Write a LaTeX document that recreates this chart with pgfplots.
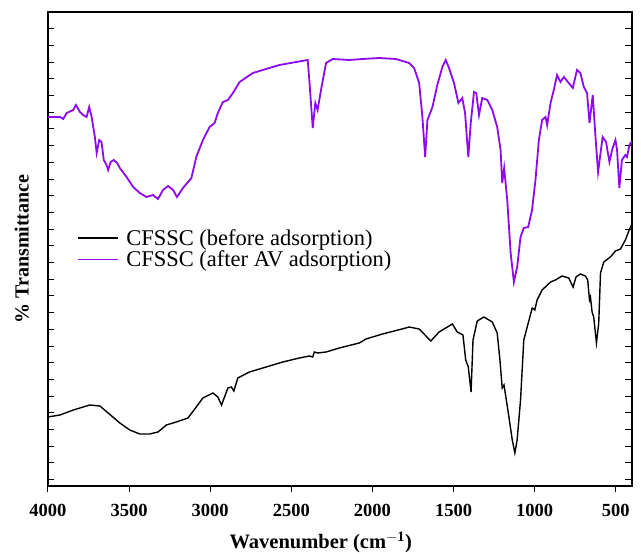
\documentclass[border=0pt]{standalone}
\usepackage{fontspec}
\setmainfont{Liberation Serif}
\usepackage{pgfplots}
\pgfplotsset{compat=1.18}
\definecolor{avpurple}{RGB}{140,10,235}
\begin{document}
\begin{tikzpicture}
\begin{axis}[
  scale only axis,
  width=584pt, height=474pt,
  at={(0,0)}, anchor=south west,
  x dir=reverse,
  xmin=400, xmax=4000,
  ymin=0, ymax=474,
  xtick={500,1000,...,4000},
  ytick={6.4,23.1,...,474},
  yticklabels={},
  xtick align=outside,
  ytick align=inside,
  xtick pos=bottom,
  ytick pos=both,
  yticklabel pos=left,
  x tick style={black, line width=1pt},
  y tick style={black, line width=0.8pt},
  major tick length=6.5pt,
  /pgf/number format/assume math mode=true,
  /pgf/number format/1000 sep={},
  ticklabel style={font=\fontsize{18.5}{20}\selectfont\bfseries},
  xticklabel style={yshift=-8pt},
  xlabel={Wavenumber (cm$^{\mathbf{-1}}$)},
  ylabel={\% Transmittance},
  xlabel style={font=\fontsize{20.5}{24}\selectfont\bfseries, at={(axis description cs:0.467,0)}, anchor=north, yshift=-42pt},
  ylabel style={font=\fontsize{20}{24}\selectfont\bfseries, at={(axis description cs:-0.045,0.5)}, anchor=center},
  axis line style={line width=1.2pt},
  legend style={at={(0.045,0.55)}, anchor=north west, draw=none, fill=none,
    font=\fontsize{22.5}{25}\selectfont, row sep=0pt, column sep=5pt, cells={anchor=west}},
  legend cell align=left,
  legend image code/.code={\draw[#1] (0pt,0pt) -- (40pt,0pt);},
  clip=true,
]
\addplot[black, line width=1.4pt] coordinates {
(4000,69) (3926,71) (3844,76) (3742,81) (3680,80) (3629,73) (3557,63) (3496,56)
(3434,52) (3373,52) (3322,54) (3270,61) (3209,64) (3137,68) (3086,79) (3045,88)
(2983,93) (2953,89) (2930,81) (2891,98) (2870,99) (2854,95) (2830,108) (2758,114)
(2655,119) (2553,124) (2450,128) (2389,130) (2368,129) (2358,134) (2338,133)
(2286,134) (2204,138) (2081,143) (2040,147) (1938,152) (1794,158) (1774,159)
(1712,157) (1640,145) (1589,154) (1507,162) (1477,154) (1442,151) (1425,126)
(1409,119) (1392,94) (1380,146) (1354,165) (1313,169) (1261,164) (1231,153)
(1214,126) (1200,98) (1189,101) (1165,76) (1138,46) (1122,33) (1108,46) (1087,86)
(1067,146) (1046,159) (1015,178) (999,176) (985,186) (954,196) (902,204) (872,206)
(831,210) (790,208) (763,199) (745,209) (718,212) (687,210) (673,206) (662,186)
(656,189) (646,174) (636,169) (619,143) (605,163) (594,213) (574,224) (533,229)
(502,235) (471,237) (441,246) (415,257) (400,262)
};
\addlegendentry{CFSSC (before adsorption)}
\addplot[avpurple, line width=1.8pt] coordinates {
(4000,369) (3926,369) (3906,367) (3885,373) (3844,376) (3828,381) (3803,374)
(3783,371) (3762,369) (3746,379) (3731,369) (3711,349) (3700,333) (3684,346)
(3670,344) (3656,326) (3639,321) (3629,316) (3614,324) (3594,326) (3574,323)
(3557,318) (3516,309) (3475,299) (3434,293) (3393,289) (3352,291) (3322,287)
(3291,296) (3260,300) (3229,296) (3205,289) (3168,298) (3116,308) (3086,329)
(3045,346) (3004,359) (2973,363) (2953,373) (2922,384) (2891,386) (2860,393)
(2819,404) (2737,413) (2676,416) (2573,421) (2470,424) (2399,426) (2389,406)
(2368,358) (2352,383) (2338,376) (2317,396) (2286,423) (2245,427) (2143,426)
(2061,427) (1958,428) (1855,427) (1774,423) (1743,418) (1712,403) (1692,369)
(1675,329) (1661,366) (1630,379) (1600,401) (1569,419) (1548,426) (1528,418)
(1497,403) (1470,383) (1446,388) (1429,373) (1409,329) (1394,363) (1374,394)
(1360,393) (1343,371) (1323,388) (1292,386) (1261,376) (1231,359) (1210,336)
(1200,303) (1188,318) (1169,286) (1148,233) (1128,204) (1108,219) (1087,249)
(1067,258) (1040,259) (1016,276) (995,306) (974,346) (954,366) (933,369)
(923,361) (902,383) (882,396) (862,411) (841,404) (820,409) (790,403) (765,398)
(739,416) (718,413) (697,399) (677,393) (662,363) (642,391) (625,349) (609,314)
(581,349) (560,344) (539,324) (523,336) (502,346) (492,336) (478,298) (462,326)
(441,331) (431,329) (416,341) (400,345)
};
\addlegendentry{CFSSC (after AV adsorption)}
\end{axis}
\pgfresetboundingbox
\path (-48pt,-68pt) rectangle (593pt,486pt);
\end{tikzpicture}
\end{document}
